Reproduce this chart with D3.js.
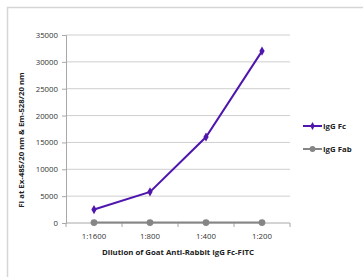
<!DOCTYPE html>
<html lang="en">
<head>
<meta charset="UTF-8">
<title>IgG Fc vs IgG Fab</title>
<script src="https://d3js.org/d3.v7.min.js"></script>
<style>
  body { margin: 0; background: #fff; font-family: "Open Sans", Arial, sans-serif; }
  svg { display: block; }
</style>
</head>
<body>
<div id="chart"></div>
<script>
// data
const dilutions = ["1:1600", "1:800", "1:400", "1:200"];
const iggFc = [2500, 5800, 16000, 32000];
const iggFab = [80, 80, 80, 80];
const yTicks = [0, 5000, 10000, 15000, 20000, 25000, 30000, 35000];
const seriesNames = ["IgG Fc", "IgG Fab"];
const seriesColors = ["#4f16ad", "#858585"];

const width = 363, height = 277;
const margin = { left: 66, right: 73, top: 35, bottom: 54 };
const fs = 7.8;

const svg = d3.select("#chart").append("svg")
    .attr("width", width)
    .attr("height", height);

// outer frame
svg.append("path")
    .attr("d", `M7.5,${height}V7.5H${width}`)
    .attr("fill", "none")
    .attr("stroke", "#d6d6d6")
    .attr("stroke-width", 1.5);

const x = d3.scaleBand()
    .domain(dilutions)
    .range([margin.left, width - margin.right]);

const y = d3.scaleLinear()
    .domain([0, 35000])
    .range([height - margin.bottom, margin.top]);

// gridlines
svg.append("g")
    .selectAll("line")
    .data(yTicks.filter(d => d > 0))
    .join("line")
    .attr("x1", margin.left)
    .attr("x2", width - margin.right)
    .attr("y1", d => y(d))
    .attr("y2", d => y(d))
    .attr("stroke", "#cfcfcf")
    .attr("stroke-width", 1);

// y axis
const yAxis = svg.append("g")
    .attr("transform", `translate(${margin.left},0)`)
    .call(d3.axisLeft(y).tickValues(yTicks).tickSize(4).tickPadding(4).tickFormat(d3.format("d")));
yAxis.select(".domain").attr("stroke", "#a8a8a8");
yAxis.selectAll(".tick line").attr("stroke", "#a8a8a8");
yAxis.selectAll("text").attr("font-size", fs).attr("fill", "#333")
    .attr("font-family", "'Open Sans', Arial, sans-serif");

// x axis with ticks between categories
const xAxisG = svg.append("g")
    .attr("transform", `translate(0,${y(0)})`);
xAxisG.append("line")
    .attr("x1", margin.left).attr("x2", width - margin.right)
    .attr("stroke", "#a8a8a8");
xAxisG.selectAll("line.sep")
    .data(dilutions.concat(["end"]))
    .join("line")
    .attr("class", "sep")
    .attr("x1", (d, i) => margin.left + i * x.step())
    .attr("x2", (d, i) => margin.left + i * x.step())
    .attr("y1", 0).attr("y2", 4)
    .attr("stroke", "#a8a8a8");
xAxisG.selectAll("text")
    .data(dilutions)
    .join("text")
    .attr("x", d => x(d) + x.bandwidth() / 2)
    .attr("y", 16)
    .attr("text-anchor", "middle")
    .attr("font-size", fs)
    .attr("fill", "#333")
    .text(d => d);

// axis titles
svg.append("text")
    .attr("x", (margin.left + width - margin.right) / 2)
    .attr("y", 255)
    .attr("text-anchor", "middle")
    .attr("font-size", fs)
    .attr("font-weight", "bold")
    .attr("fill", "#222")
    .text("Dilution of Goat Anti-Rabbit IgG Fc-FITC");

svg.append("text")
    .attr("transform", "translate(24,140) rotate(-90)")
    .attr("text-anchor", "middle")
    .attr("font-size", fs)
    .attr("font-weight", "bold")
    .attr("fill", "#222")
    .text("FI at Ex-485/20 nm & Em-528/20 nm");

// series
const cx = d => x(d) + x.bandwidth() / 2;
const series = [iggFc, iggFab];
const line = d3.line().x((d, i) => cx(dilutions[i])).y(d => y(d));

series.slice().reverse().forEach((vals, ri) => {
    const si = series.length - 1 - ri;
    svg.append("path")
        .datum(vals)
        .attr("d", line)
        .attr("fill", "none")
        .attr("stroke", seriesColors[si])
        .attr("stroke-width", 2);
    const sym = si === 0 ? d3.symbolDiamond : d3.symbolCircle;
    const size = si === 0 ? 24 : 36;
    svg.append("g")
        .selectAll("path")
        .data(vals)
        .join("path")
        .attr("transform", (d, i) => `translate(${cx(dilutions[i])},${y(d)})`)
        .attr("d", d3.symbol().type(sym).size(size))
        .attr("fill", seriesColors[si]);
});

// legend
const legend = svg.append("g").attr("transform", "translate(303,126)");
seriesNames.forEach((name, i) => {
    const g = legend.append("g").attr("transform", `translate(0,${i * 23})`);
    g.append("line").attr("x1", 0).attr("x2", 19)
        .attr("stroke", seriesColors[i]).attr("stroke-width", 2);
    g.append("path")
        .attr("transform", "translate(9.5,0)")
        .attr("d", d3.symbol().type(i === 0 ? d3.symbolDiamond : d3.symbolCircle).size(i === 0 ? 18 : 26))
        .attr("fill", seriesColors[i]);
    g.append("text")
        .attr("x", 20).attr("y", 2.8)
        .attr("font-size", fs)
        .attr("font-weight", "bold")
        .attr("fill", "#222")
        .text(name);
});
</script>
</body>
</html>
